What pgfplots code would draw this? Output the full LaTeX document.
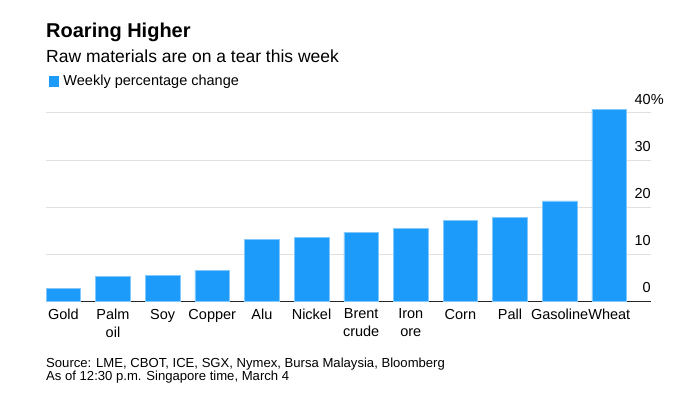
\documentclass[border=0pt]{standalone}
\usepackage{pgfplots}
\pgfplotsset{compat=1.18}
\usepackage{fontspec}
\setmainfont{Liberation Sans}
\definecolor{barblue}{RGB}{29,155,250}
\definecolor{gridgray}{RGB}{224,224,224}
\begin{document}
\begin{tikzpicture}
\path[use as bounding box, fill=white] (0,0) rectangle (691pt,-394pt);
\node[anchor=base west, inner sep=0pt, font=\fontsize{20}{24}\selectfont\bfseries] at (46pt,-37.7pt) {Roaring Higher};
\node[anchor=base west, inner sep=0pt, font=\fontsize{17.5}{21}\selectfont] at (46pt,-62.3pt) {Raw materials are on a tear this week};
\node[anchor=base west, inner sep=0pt, font=\fontsize{13.1}{15}\selectfont] at (46pt,-367.3pt) {Source: LME, CBOT, ICE, SGX, Nymex, Bursa Malaysia, Bloomberg};
\node[anchor=base west, inner sep=0pt, font=\fontsize{13.1}{15}\selectfont] at (46pt,-380pt) {As of 12:30 p.m. Singapore time, March 4};
\begin{axis}[
  at={(46pt,-301.3pt)}, anchor=south west,
  scale only axis, width=605pt, height=197.8pt,
  xmin=-0.35, xmax=11.84, ymin=0, ymax=42,
  axis x line*=bottom, axis y line*=right,
  y axis line style={draw=none},
  x axis line style={-, draw=black!85, line width=1pt},
  tick style={draw=none},
  major tick length=0pt,
  ymajorgrids, grid style={draw=gridgray, line width=1pt},
  xtick={0,1,2,3,4,5,6,7,8,9,10,11},
  xticklabels={Gold,{Palm\\oil},Soy,Copper,Alu,Nickel,{Brent\\crude},{Iron\\ore},Corn,Pall,Gasoline,Wheat},
  xticklabel style={align=center, anchor=north, inner sep=0pt, yshift=-7.5pt, font=\fontsize{14.5}{17.5}\selectfont},
  ytick={0,10,20,30,40},
  yticklabels={0,10,20,30,{40\rlap{\%}}},
  yticklabel pos=right,
  yticklabel style={anchor=base east, inner sep=0pt, xshift=0pt, yshift=8.6pt, font=\fontsize{14.5}{17.5}\selectfont},
  legend style={draw=none, fill=none, inner sep=0pt, at={(0.00446,1.1122)}, anchor=west, font=\fontsize{14.5}{17}\selectfont},
  legend cell align=left,
  clip=false,
]
\addplot[ybar, bar width=34.7pt, fill=barblue, draw=barblue!55!white, line width=0.6pt,
  legend image code/.code={\fill[barblue] (0pt,-4.6pt) rectangle (9.3pt,4.6pt); \path (12pt,0pt);}]
  coordinates {(0,2.8) (1,5.3) (2,5.5) (3,6.6) (4,13.1) (5,13.5) (6,14.6) (7,15.4) (8,17.1) (9,17.8) (10,21.3) (11,40.8)};
\addlegendentry{Weekly percentage change}
\end{axis}
\end{tikzpicture}
\end{document}
